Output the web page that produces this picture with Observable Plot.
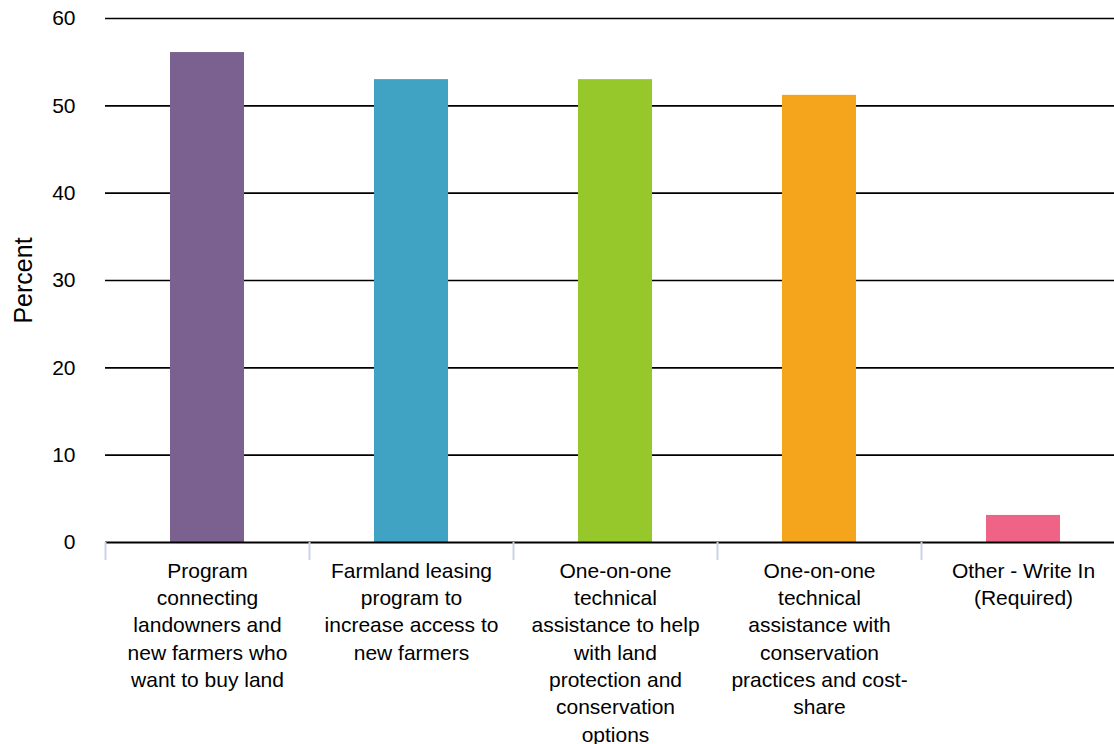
<!DOCTYPE html>
<html>
<head>
<meta charset="utf-8">
<script src="https://cdn.jsdelivr.net/npm/d3@7"></script>
<script src="https://cdn.jsdelivr.net/npm/@observablehq/plot@0.6"></script>
<style>
  html, body { margin: 0; padding: 0; background: #fff; }
  svg { display: block; }
</style>
</head>
<body>
<div id="chart"></div>
<script>
const categories = [
  "Program connecting landowners and new farmers who want to buy land",
  "Farmland leasing program to increase access to new farmers",
  "One-on-one technical assistance to help with land protection and conservation options",
  "One-on-one technical assistance with conservation practices and cost-share",
  "Other - Write In (Required)"
];
const tickLabels = [
  "Program\nconnecting\nlandowners and\nnew farmers who\nwant to buy land",
  "Farmland leasing\nprogram to\nincrease access to\nnew farmers",
  "One-on-one\ntechnical\nassistance to help\nwith land\nprotection and\nconservation\noptions",
  "One-on-one\ntechnical\nassistance with\nconservation\npractices and cost-\nshare",
  "Other - Write In\n(Required)"
];
const percents = [56.1, 53.0, 53.0, 51.2, 3.1];
const colors = ["#7b618f", "#40a3c3", "#97c82b", "#f4a51c", "#ef6486"];
const yTicks = [0, 10, 20, 30, 40, 50, 60];

const data = categories.map((c, i) => ({category: c, value: percents[i], color: colors[i]}));
const labelOf = new Map(categories.map((c, i) => [c, tickLabels[i]]));

const xStart = 105, xEnd = 1125;
const step = (xEnd - xStart) / categories.length;

const chart = Plot.plot({
  width: 1114,
  height: 744,
  marginLeft: 105,
  marginRight: 0,
  marginTop: 18,
  marginBottom: 202,
  style: {fontFamily: "'Liberation Sans', Arial, Helvetica, sans-serif", fontSize: "21px", color: "#000", background: "#fff"},
  x: {domain: categories, range: [xStart, xEnd], paddingInner: 0.637, paddingOuter: 0.3185, label: null},
  y: {domain: [0, 60], label: null},
  marks: [
    Plot.ruleY(yTicks.filter(d => d > 0), {stroke: "#000", strokeWidth: 1.6}),
    Plot.barY(data, {x: "category", y: "value", fill: "color"}),
    Plot.ruleY([0], {stroke: "#000", strokeWidth: 2}),
    Plot.axisY({ticks: yTicks, tickSize: 0, tickPadding: 30, fontSize: 21, label: null}),
    Plot.axisX({tickSize: 18, text: null, dx: -step / 2, stroke: "#c8d3e8", strokeWidth: 2, label: null}),
    Plot.axisX({tickSize: 0, tickPadding: 16, fontSize: 21, lineHeight: 1.3, tickFormat: d => labelOf.get(d), label: null}),
    Plot.text(["Percent"], {frameAnchor: "left", textAnchor: "middle", rotate: -90, dx: -82, fontSize: 25, fill: "#000"})
  ]
});
document.getElementById("chart").appendChild(chart);
</script>
</body>
</html>
